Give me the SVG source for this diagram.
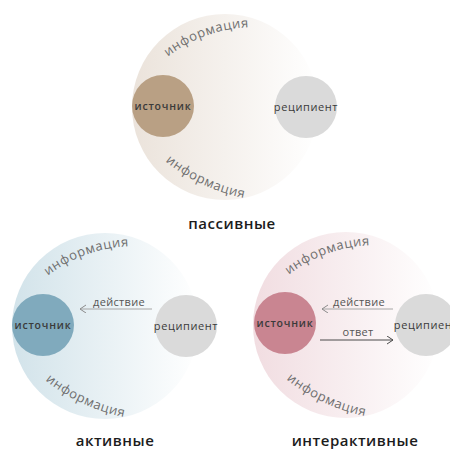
<svg xmlns="http://www.w3.org/2000/svg" width="450" height="450" viewBox="0 0 450 450">
  <defs>
    <linearGradient id="bg-beige" x1="0" y1="0" x2="1" y2="0">
      <stop offset="0" stop-color="#ebe3db"/>
      <stop offset="1" stop-color="#ffffff"/>
    </linearGradient>
    <linearGradient id="bg-blue" x1="0" y1="0" x2="1" y2="0">
      <stop offset="0" stop-color="#d2e3ea"/>
      <stop offset="1" stop-color="#ffffff"/>
    </linearGradient>
    <linearGradient id="bg-pink" x1="0" y1="0" x2="1" y2="0">
      <stop offset="0" stop-color="#f1dde1"/>
      <stop offset="1" stop-color="#ffffff"/>
    </linearGradient>
    <!-- baselines for the curved "информация" captions, centred on (0,0) -->
    <path id="arc-top" d="M -79.5 -28.9 A 143 143 0 0 1 54.8 -77.8"/>
    <path id="arc-bottom" d="M -92.2 19 A 176 176 0 0 0 67.3 93.3"/>
    <marker id="chev-light" markerUnits="userSpaceOnUse" markerWidth="10" markerHeight="10" refX="6" refY="4" orient="auto">
      <path d="M0,0 L6,4 L0,8" fill="none" stroke="#8a8a8a" stroke-width="1"/>
    </marker>
    <marker id="chev-dark" markerUnits="userSpaceOnUse" markerWidth="10" markerHeight="10" refX="6" refY="4" orient="auto">
      <path d="M0,0 L6,4 L0,8" fill="none" stroke="#4a4a4a" stroke-width="1"/>
    </marker>
  </defs>
  <style>
    text { font-family: "Open Sans", "Noto Sans", "DejaVu Sans", sans-serif; }
    .info { font-size: 13px; fill: #6e6e6e; letter-spacing: 0.6px; }
    .src { font-size: 10.5px; font-weight: 600; fill: #3a3a3a; text-anchor: middle; letter-spacing: 0.8px; }
    .rcp { font-size: 11px; fill: #3a3a3a; text-anchor: middle; letter-spacing: 0.6px; }
    .title { font-size: 15px; font-weight: 600; fill: #1c1c1c; text-anchor: middle; letter-spacing: 0.5px; }
    .act { font-size: 11px; fill: #555555; text-anchor: middle; letter-spacing: 0.3px; }
    .line-light { stroke: #a6a6a6; stroke-width: 1; fill: none; }
    .line-dark { stroke: #4a4a4a; stroke-width: 1; fill: none; }
    .recipient { fill: #dadada; }
  </style>

  <!-- passive model -->
  <g id="passive" transform="translate(225,107)">
    <g id="passive-field"><circle r="93" fill="url(#bg-beige)"/></g>
    <text class="info"><textPath href="#arc-top" startOffset="50%" text-anchor="middle">информация</textPath></text>
    <text class="info"><textPath href="#arc-bottom" startOffset="50%" text-anchor="middle">информация</textPath></text>
    <g id="passive-source">
      <circle cx="-62" cy="-1" r="31" fill="#b9a084"/>
      <text class="src" x="-62" y="3">источник</text>
    </g>
    <g id="passive-recipient">
      <circle class="recipient" cx="81" cy="0" r="31"/>
      <text class="rcp" x="81" y="4">реципиент</text>
    </g>
  </g>
  <text class="title" x="232" y="229">пассивные</text>

  <!-- active model -->
  <g id="active" transform="translate(105,326)">
    <g id="active-field"><circle r="93" fill="url(#bg-blue)"/></g>
    <text class="info"><textPath href="#arc-top" startOffset="50%" text-anchor="middle">информация</textPath></text>
    <text class="info"><textPath href="#arc-bottom" startOffset="50%" text-anchor="middle">информация</textPath></text>
    <g id="active-source">
      <circle cx="-62" cy="-1" r="31" fill="#80aabd"/>
      <text class="src" x="-62" y="3">источник</text>
    </g>
    <g id="active-recipient">
      <circle class="recipient" cx="81" cy="0" r="31"/>
      <text class="rcp" x="81" y="4">реципиент</text>
    </g>
    <g id="active-connectors">
      <line class="line-light" x1="47" y1="-17" x2="-25" y2="-17" marker-end="url(#chev-light)"/>
      <text class="act" x="14" y="-20">действие</text>
    </g>
  </g>
  <text class="title" x="115" y="446">активные</text>

  <!-- interactive model -->
  <g id="interactive" transform="translate(346,325)">
    <g id="interactive-field"><circle r="93" fill="url(#bg-pink)"/></g>
    <text class="info"><textPath href="#arc-top" startOffset="50%" text-anchor="middle">информация</textPath></text>
    <text class="info"><textPath href="#arc-bottom" startOffset="50%" text-anchor="middle">информация</textPath></text>
    <g id="interactive-source">
      <circle cx="-61" cy="-2" r="31" fill="#c98591"/>
      <text class="src" x="-61" y="2">источник</text>
    </g>
    <g id="interactive-recipient">
      <circle class="recipient" cx="80" cy="0" r="31"/>
      <text class="rcp" x="80" y="4">реципиент</text>
    </g>
    <g id="interactive-connectors">
      <line class="line-light" x1="47" y1="-16" x2="-24" y2="-16" marker-end="url(#chev-light)"/>
      <text class="act" x="13" y="-19">действие</text>
      <line class="line-dark" x1="-26" y1="15" x2="47" y2="15" marker-end="url(#chev-dark)"/>
      <text class="act" x="12" y="11">ответ</text>
    </g>
  </g>
  <text class="title" x="355" y="446">интерактивные</text>
</svg>
